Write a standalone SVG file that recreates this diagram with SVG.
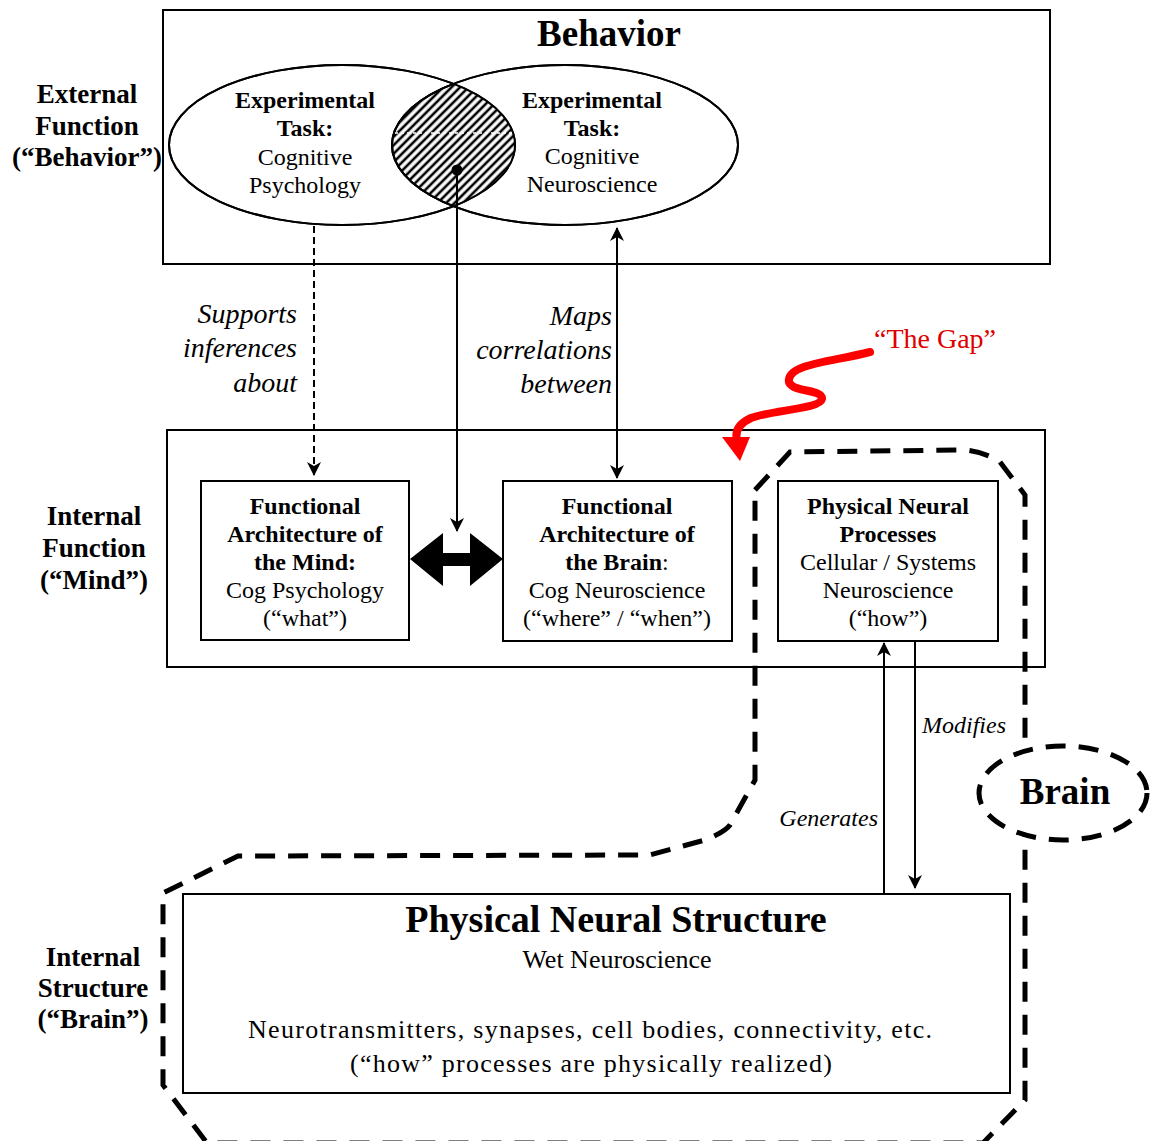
<svg xmlns="http://www.w3.org/2000/svg" width="1151" height="1141" viewBox="0 0 1151 1141">
<style>
.box{fill:#fff;stroke:#000;stroke-width:2}
.frame{fill:none;stroke:#000;stroke-width:2}
.t{font-family:"Liberation Serif","Times New Roman",serif;fill:#000;text-anchor:middle}
.b{font-weight:bold}
.i{font-style:italic}
.s24{font-size:24px}
.s26{font-size:26px}
.s27{font-size:27px}
.s28{font-size:28px}
.ln{fill:none;stroke:#000;stroke-width:2}
.dash{fill:none;stroke:#000;stroke-width:5;stroke-dasharray:20 13}
</style>
<defs>
<marker id="ah" viewBox="0 0 14 14" refX="13" refY="7" markerWidth="14" markerHeight="14" markerUnits="userSpaceOnUse" orient="auto-start-reverse">
<path d="M0,0 L14,7 L0,14 L4,7 Z" fill="#000"/>
</marker>
<pattern id="hatch" width="6" height="6" patternUnits="userSpaceOnUse" patternTransform="rotate(45)">
<rect width="6" height="6" fill="#fff"/>
<line x1="3" y1="0" x2="3" y2="6" stroke="#000" stroke-width="2.6"/>
</pattern>
<clipPath id="leftEll"><ellipse cx="342" cy="145" rx="173" ry="80"/></clipPath>
</defs>

<g id="behavior">
<rect class="frame" x="163" y="10" width="887" height="254"/>
<text class="t b" x="609" y="46" font-size="37">Behavior</text>
</g>

<g id="task-psych">
<ellipse cx="342" cy="145" rx="173" ry="80" fill="none" stroke="#000" stroke-width="2"/>
</g>
<g id="task-neuro">
<ellipse cx="565" cy="145" rx="173" ry="80" fill="none" stroke="#000" stroke-width="2"/>
</g>
<g id="overlap">
<ellipse cx="565" cy="145" rx="173" ry="80" fill="url(#hatch)" stroke="#000" stroke-width="2" clip-path="url(#leftEll)"/>
<ellipse cx="342" cy="145" rx="173" ry="80" fill="none" stroke="#000" stroke-width="2"/>
<ellipse cx="565" cy="145" rx="173" ry="80" fill="none" stroke="#000" stroke-width="2"/>
<line x1="395" y1="133" x2="515" y2="133" stroke="#fff" stroke-width="1.5" stroke-dasharray="3 3" clip-path="url(#leftEll)"/>
</g>
<g id="task-psych-text">
<text class="t b s24" x="305" y="108">Experimental</text>
<text class="t b s24" x="305" y="136">Task:</text>
<text class="t s24" x="305" y="165">Cognitive</text>
<text class="t s24" x="305" y="193">Psychology</text>
</g>
<g id="task-neuro-text">
<text class="t b s24" x="592" y="108">Experimental</text>
<text class="t b s24" x="592" y="136">Task:</text>
<text class="t s24" x="592" y="164">Cognitive</text>
<text class="t s24" x="592" y="192">Neuroscience</text>
</g>

<g id="label-external">
<text class="t b s27" x="87" y="103">External</text>
<text class="t b s27" x="87" y="135">Function</text>
<text class="t b s27" x="87" y="166">(“Behavior”)</text>
</g>
<g id="label-internal-function">
<text class="t b s27" x="94" y="525">Internal</text>
<text class="t b s27" x="94" y="557">Function</text>
<text class="t b s27" x="94" y="589">(“Mind”)</text>
</g>
<g id="label-internal-structure">
<text class="t b s27" x="93" y="966">Internal</text>
<text class="t b s27" x="93" y="997">Structure</text>
<text class="t b s27" x="93" y="1028">(“Brain”)</text>
</g>

<g id="mind">
<rect class="frame" x="167" y="430" width="878" height="237"/>
</g>

<g id="brain-outline">
<path class="dash" d="M755,490 L790,452 L965,450 Q985,452 1000,462 L1025,495 L1025,1100 L983,1143 L207,1143 L163,1085 L163,893 L238,856 L650,855 L705,840 Q725,832 730,825 L755,780 Z"/>
</g>

<g id="fa-mind">
<rect class="box" x="201" y="481" width="208" height="159"/>
<text class="t b s24" x="305" y="514">Functional</text>
<text class="t b s24" x="305" y="542">Architecture of</text>
<text class="t b s24" x="305" y="570">the Mind:</text>
<text class="t s24" x="305" y="598">Cog Psychology</text>
<text class="t s24" x="305" y="626">(“what”)</text>
</g>
<g id="fa-brain">
<rect class="box" x="503" y="481" width="229" height="160"/>
<text class="t b s24" x="617" y="514">Functional</text>
<text class="t b s24" x="617" y="542">Architecture of</text>
<text class="t s24" x="617" y="570"><tspan font-weight="bold">the Brain</tspan>:</text>
<text class="t s24" x="617" y="598">Cog Neuroscience</text>
<text class="t s24" x="617" y="626">(“where” / “when”)</text>
</g>
<g id="pnp">
<rect class="box" x="778" y="481" width="220" height="160"/>
<text class="t b s24" x="888" y="514">Physical Neural</text>
<text class="t b s24" x="888" y="542">Processes</text>
<text class="t s24" x="888" y="570">Cellular / Systems</text>
<text class="t s24" x="888" y="598">Neuroscience</text>
<text class="t s24" x="888" y="626">(“how”)</text>
</g>
<g id="pns">
<rect class="box" x="183" y="894" width="827" height="199"/>
<text class="t b" x="616" y="932" font-size="38">Physical Neural Structure</text>
<text class="t s26" x="617" y="968">Wet Neuroscience</text>
<text class="t s26" x="590" y="1038" textLength="684" lengthAdjust="spacing">Neurotransmitters, synapses, cell bodies, connectivity, etc.</text>
<text class="t s26" x="591" y="1072" textLength="482" lengthAdjust="spacing">(“how” processes are physically realized)</text>
</g>

<g id="brain-tag">
<ellipse cx="1063" cy="793" rx="84" ry="47" fill="#fff" stroke="#000" stroke-width="5" stroke-dasharray="20 13"/>
<text class="t b" x="1065" y="804" font-size="37">Brain</text>
</g>

<g id="connectors">
<line class="ln" x1="314" y1="226" x2="314" y2="475" stroke-dasharray="7 4" marker-end="url(#ah)"/>
<line class="ln" x1="617" y1="228" x2="617" y2="478" marker-start="url(#ah)" marker-end="url(#ah)"/>
<line class="ln" x1="457" y1="170" x2="457" y2="531" marker-end="url(#ah)"/>
<circle cx="457" cy="170" r="5.5" fill="#000"/>
<polygon points="410,559 443,533 443,553 470,553 470,533 503,559 470,586 470,566 443,566 443,586" fill="#000"/>
<line class="ln" x1="884" y1="893" x2="884" y2="643" marker-end="url(#ah)"/>
<line class="ln" x1="915" y1="641" x2="915" y2="888" marker-end="url(#ah)"/>
<path d="M870,352 C830,362 792,364 789,379 C786,393 823,388 822,399 C820,409 772,410 751,418 C738,424 735,432 737,440" fill="none" stroke="#f00" stroke-width="8" stroke-linecap="round"/>
<polygon points="722,437 750,437 740,461" fill="#f00"/>
</g>

<g id="labels">
<text class="t i s28" x="297" y="323" style="text-anchor:end">Supports</text>
<text class="t i s28" x="297" y="357" style="text-anchor:end">inferences</text>
<text class="t i s28" x="297" y="392" style="text-anchor:end">about</text>
<text class="t i s28" x="612" y="325" style="text-anchor:end">Maps</text>
<text class="t i s28" x="612" y="359" style="text-anchor:end">correlations</text>
<text class="t i s28" x="612" y="393" style="text-anchor:end">between</text>
<text class="t i" x="922" y="733" font-size="24" style="text-anchor:start">Modifies</text>
<text class="t i" x="878" y="826" font-size="24" style="text-anchor:end">Generates</text>
<text class="t s28" x="935" y="348" style="fill:#e00000">“The Gap”</text>
</g>
</svg>
